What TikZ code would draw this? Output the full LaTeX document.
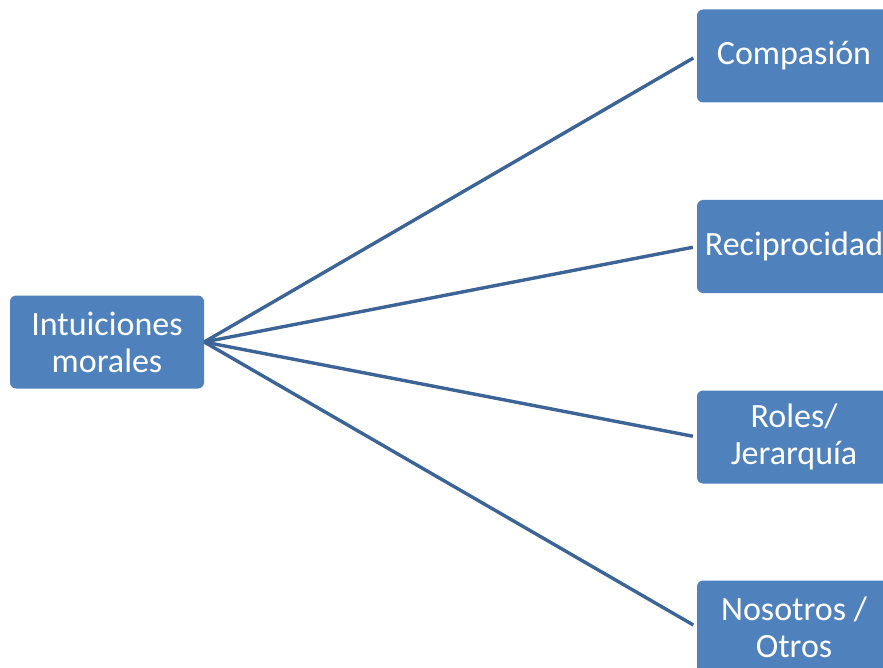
\documentclass[tikz,border=0pt]{standalone}
\usepackage{fontspec}
\setmainfont{Carlito}
\definecolor{cajaazul}{HTML}{4F81BD}
\definecolor{lineaazul}{HTML}{3D6496}
\tikzset{
caja/.style={rectangle,rounded corners=6pt,fill=cajaazul,text=white,align=center,minimum width=194pt,minimum height=93pt,inner sep=1pt,font=\fontsize{34}{37}\selectfont},
rama/.style={lineaazul,line width=3.4pt,shorten >=4pt}
}
\begin{document}
\begin{tikzpicture}[x=1pt,y=-1pt]
\useasboundingbox(0,0) rectangle (883,668);
\clip(0,0) rectangle (883,668);
\node[caja](raiz) at (107,342){Intuiciones\\morales};
\node[caja](comp) at (794,56){Compasión};
\node[caja](reci) at (794,246.5){Reciprocidad};
\node[caja](role) at (794,437){Roles/\\Jerarquía};
\node[caja](noso) at (794,627){Nosotros /\\Otros};
\draw[rama](raiz.east)--(comp.west);
\draw[rama](raiz.east)--(reci.west);
\draw[rama](raiz.east)--(role.west);
\draw[rama](raiz.east)--(noso.west);
\end{tikzpicture}
\end{document}
